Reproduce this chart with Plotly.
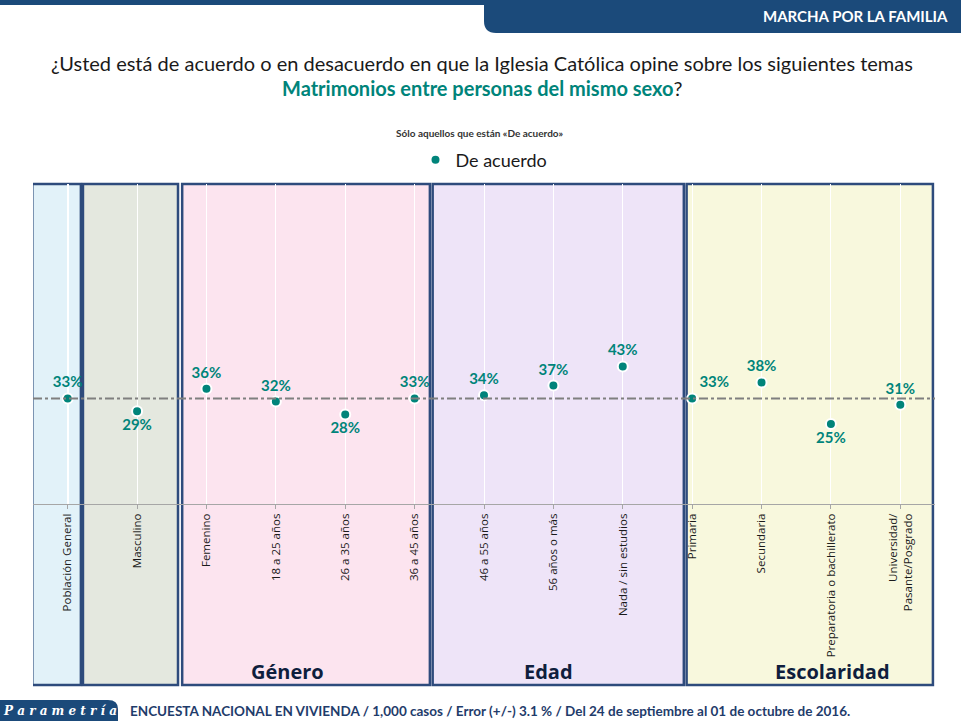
import plotly.graph_objs as go

# Datos
categorias = ['Población General', 'Masculino', 'Femenino', '18 a 25 años',
              '26 a 35 años', '36 a 45 años', '46 a 55 años', '56 años o más',
              'Nada / sin estudios', 'Primaria', 'Secundaria',
              'Preparatoria o bachillerato', 'Universidad/<br>Pasante/Posgrado']
de_acuerdo = [33, 29, 36, 32, 28, 33, 34, 37, 43, 33, 38, 25, 31]
grupos = ['Género', 'Edad', 'Escolaridad']

teal = '#00847A'
navy = '#1F3C6B'

# plot area in pixels (for placing decorations)
L, R, T, B = 33, 935, 184, 504
W, H = 961, 721


def px_x(p):
    return (p - L) / (R - L)


def px_y(p):
    return (B - p) / (B - T)


# labels above, except the low ones
posiciones = ['bottom center' if v < 30 else 'top center' for v in de_acuerdo]
posiciones[categorias.index('Primaria')] = 'top right'  # keep clear of the box edge

fig = go.Figure()
fig.add_trace(go.Scatter(
    x=list(range(len(categorias))),
    y=de_acuerdo,
    mode='markers+text',
    name='De acuerdo',
    marker=dict(color=teal, size=10, line=dict(color='white', width=2)),
    text=['{}%'.format(v) for v in de_acuerdo],
    textposition=posiciones,
    textfont=dict(family='Lato', size=15, color=teal, weight='bold'),
    cliponaxis=False,
))

# dashed reference line at the general population value
fig.add_hline(y=de_acuerdo[0], line=dict(color='#7F7F7F', width=2, dash='dashdot'))

# coloured boxes (x in category units, y in paper)
cajas = [(-0.51, 0.19, '#E2F2F9'), (0.22, 1.59, '#E4E8DF'),
         (1.65, 5.22, '#FCE4EF'), (5.26, 8.88, '#EEE4F8'),
         (8.92, 12.47, '#F8F8DD')]
for x0, x1, col in cajas:
    fig.add_shape(type='rect', xref='x', yref='paper', x0=x0, x1=x1,
                  y0=px_y(685), y1=1, fillcolor=col, layer='below',
                  line=dict(color='#2E4B7C', width=2.5))

# header band
fig.add_shape(type='rect', xref='paper', yref='paper', x0=px_x(0), x1=px_x(961),
              y0=px_y(5), y1=px_y(0), fillcolor='#1B4A7A', line_width=0)
fig.add_shape(type='path', xref='paper', yref='paper',
              path='M {a},{t} L {b},{t} L {b},{u} L {c},{u} Q {a},{u} {a},{v} Z'.format(
                  a=px_x(484), b=px_x(961), c=px_x(496),
                  t=px_y(0), u=px_y(33), v=px_y(21)),
              fillcolor='#1B4A7A', line_width=0)

# footer logo
fig.add_shape(type='path', xref='paper', yref='paper',
              path='M {a},{u} L {a},{t} L {c},{t} Q {b},{t} {b},{v} L {b},{u} Z'.format(
                  a=px_x(0), b=px_x(118), c=px_x(108),
                  t=px_y(700), u=px_y(721), v=px_y(709)),
              fillcolor='#1B4A7A', line_width=0)

anot = [
    dict(text='MARCHA POR LA FAMILIA', x=px_x(950), y=px_y(16), xanchor='right',
         font=dict(family='Lato', size=15, color='white', weight='bold')),
    dict(text='¿Usted está de acuerdo o en desacuerdo en que la Iglesia Católica opine sobre los siguientes temas',
         x=px_x(482), y=px_y(63), xanchor='center',
         font=dict(family='Lato', size=20, color='#1A1A1A')),
    dict(text='<b><span style="color:%s">Matrimonios entre personas del mismo sexo</span></b>?' % teal,
         x=px_x(482), y=px_y(88), xanchor='center',
         font=dict(family='Lato', size=20, color='#1A1A1A')),
    dict(text='<b>Sólo aquellos que están «De acuerdo»</b>', x=px_x(480), y=px_y(133),
         xanchor='center', font=dict(family='Lato', size=10, color='#333333')),
    dict(text='P a r a m e t r í a', x=px_x(60), y=px_y(711), xanchor='center',
         font=dict(family='DejaVu Serif', size=12, color='white', style='italic', weight='bold')),
    dict(text='ENCUESTA NACIONAL EN VIVIENDA / 1,000 casos / Error (+/-) 3.1 % / Del 24 de septiembre al 01 de octubre de 2016.',
         x=px_x(128), y=px_y(711), xanchor='left',
         font=dict(family='Lato', size=13.5, color=navy, weight='bold')),
]
for g, xc in zip(grupos, [287, 548, 832]):
    anot.append(dict(text=g, x=px_x(xc), y=px_y(671), xanchor='center',
                     font=dict(family='Open Sans', size=20, color='#0F1E3D', weight='bold')))
for a in anot:
    a.update(xref='paper', yref='paper', yanchor='middle', showarrow=False)

fig.update_layout(
    width=W, height=H,
    margin=dict(l=L, r=W - R, t=T, b=H - B),
    paper_bgcolor='white',
    plot_bgcolor='rgba(0,0,0,0)',
    annotations=anot,
    showlegend=True,
    legend=dict(orientation='h', x=0.5, xanchor='center', y=px_y(160), yanchor='middle',
                font=dict(family='Lato', size=18, color='#1A1A1A'),
                bgcolor='rgba(0,0,0,0)'),
)
fig.update_xaxes(
    range=[-0.5, len(categorias) - 0.5],
    tickmode='array', tickvals=list(range(len(categorias))), ticktext=categorias,
    tickangle=-90, tickson='boundaries', ticks='outside', ticklen=4,
    tickcolor='#A6A6A6', showline=True, linecolor='#A6A6A6', linewidth=1,
    showgrid=True, gridcolor='white', gridwidth=1,
    tickfont=dict(family='Open Sans', size=11.5, color='#1A1A1A'),
)
fig.update_yaxes(range=[0, 100], showticklabels=False, showgrid=False,
                 zeroline=False)

# page body has a default margin; drop it so the figure sits at 0,0
fig.write_html('out.html', config={'displayModeBar': False},
               post_script="document.body.style.margin='0px';")
